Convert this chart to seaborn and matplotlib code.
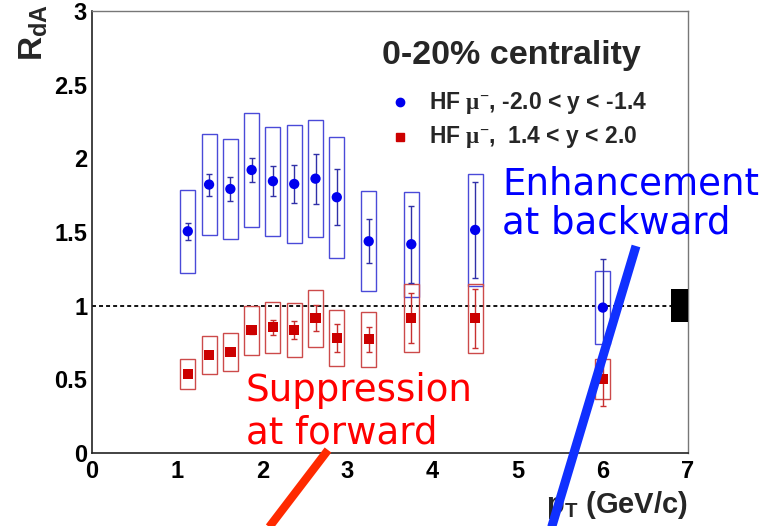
import matplotlib
matplotlib.use("Agg")
import matplotlib.pyplot as plt
from matplotlib.lines import Line2D
from matplotlib.ticker import MultipleLocator, FuncFormatter
import numpy as np
import pandas as pd
import seaborn as sns

# pT bin centres (GeV/c)
pt = [1.125, 1.375, 1.625, 1.875, 2.125, 2.375, 2.625, 2.875, 3.25, 3.75, 4.5, 6.0]

# backward rapidity, -2.0 < y < -1.4
rda_bwd = [1.505, 1.822, 1.792, 1.921, 1.845, 1.826, 1.862, 1.736, 1.437, 1.417, 1.514, 0.987]
stat_bwd = [0.058, 0.075, 0.080, 0.080, 0.100, 0.128, 0.170, 0.190, 0.150, 0.260, 0.328, 0.330]
sys_bwd = [0.280, 0.340, 0.340, 0.385, 0.370, 0.400, 0.397, 0.410, 0.340, 0.357, 0.380, 0.245]

# forward rapidity, 1.4 < y < 2.0
rda_fwd = [0.536, 0.665, 0.686, 0.833, 0.855, 0.835, 0.914, 0.781, 0.772, 0.915, 0.915, 0.500]
stat_fwd = [0.020, 0.020, 0.020, 0.025, 0.051, 0.061, 0.088, 0.093, 0.085, 0.170, 0.200, 0.180]
sys_fwd = [0.102, 0.127, 0.131, 0.168, 0.173, 0.186, 0.195, 0.190, 0.185, 0.230, 0.235, 0.136]

series_labels = [r"HF $\mathrm{\mu^{-}}$, -2.0 < y < -1.4",
                 r"HF $\mathrm{\mu^{-}}$,  1.4 < y < 2.0"]
title_text = "0-20% centrality"

ref_level = 1.0      # R_dA = 1 reference
norm_unc = 0.11      # global normalisation uncertainty
box_width = 0.176    # width of systematic-uncertainty boxes

col_bwd, col_fwd = "#0000ee", "#cc0000"
box_bwd, box_fwd = "#4a4ad8", "#cc4a4a"

sns.set_theme(style="white")
plt.rcParams["font.family"] = ["Liberation Sans", "DejaVu Sans"]
plt.rcParams["font.weight"] = "bold"
plt.rcParams["axes.labelweight"] = "bold"
plt.rcParams["mathtext.fontset"] = "custom"
plt.rcParams["mathtext.rm"] = "Liberation Serif"
plt.rcParams["mathtext.bf"] = "Liberation Sans:bold"
plt.rcParams["mathtext.it"] = "Liberation Sans:italic"

fig = plt.figure(figsize=(7.81, 5.26), dpi=100)
fig.patch.set_facecolor("white")
ax = fig.add_axes([92 / 781, 73 / 526, 596 / 781, 442 / 526])

rb, sb, eb = np.array(rda_bwd), np.array(sys_bwd), np.array(stat_bwd)
rf, sf, ef = np.array(rda_fwd), np.array(sys_fwd), np.array(stat_fwd)

# systematic boxes
ax.bar(pt, 2 * sb, bottom=rb - sb, width=box_width, fill=False,
       edgecolor=box_bwd, linewidth=1.0, zorder=2)
ax.bar(pt, 2 * sf, bottom=rf - sf, width=box_width, fill=False,
       edgecolor=box_fwd, linewidth=1.0, zorder=2)

# statistical error bars
ax.errorbar(pt, rb, yerr=eb, fmt="none", ecolor="#3030a8", elinewidth=1.0,
            capsize=2.5, capthick=1.0, zorder=3)
ax.errorbar(pt, rf, yerr=ef, fmt="none", ecolor="#c83030", elinewidth=1.0,
            capsize=2.5, capthick=1.0, zorder=3)

# data points
df = pd.DataFrame({
    "pt": pt + pt,
    "rda": rda_bwd + rda_fwd,
    "series": [series_labels[0]] * len(pt) + [series_labels[1]] * len(pt),
})
sns.scatterplot(data=df, x="pt", y="rda", hue="series", style="series",
                markers={series_labels[0]: "o", series_labels[1]: "s"},
                palette={series_labels[0]: col_bwd, series_labels[1]: col_fwd},
                s=55, linewidth=0, edgecolor="none", legend=False, ax=ax, zorder=4)

# unity line and normalisation box
ax.plot([0, 7 - 0.2], [ref_level, ref_level], color="black", lw=1.3,
        ls=(0, (2.2, 1.7)), zorder=1)
ax.bar(6.9, 2 * norm_unc, bottom=ref_level - norm_unc, width=0.2,
       color="black", linewidth=0, zorder=3)

ax.set_xlim(0, 7)
ax.set_ylim(0, 3)
ax.xaxis.set_major_locator(MultipleLocator(1))
ax.xaxis.set_minor_locator(MultipleLocator(0.2))
ax.yaxis.set_major_locator(MultipleLocator(0.5))
ax.yaxis.set_minor_locator(MultipleLocator(0.1))
ax.yaxis.set_major_formatter(FuncFormatter(lambda v, p: f"{v:g}"))
ax.xaxis.set_major_formatter(FuncFormatter(lambda v, p: f"{v:g}"))

ax.tick_params(which="both", direction="in", top=False, right=False,
               color="#333333", width=1.0, labelcolor="black")
ax.tick_params(axis="y", which="major", length=13, pad=3.5, labelsize=17)
ax.tick_params(axis="y", which="minor", length=6.5)
ax.tick_params(axis="x", which="major", length=9, pad=5, labelsize=17)
ax.tick_params(axis="x", which="minor", length=4.5)

for name, sp in ax.spines.items():
    sp.set_visible(True)
    sp.set_color("#777777" if name in ("top", "right") else "#222222")
    sp.set_linewidth(1.0 if name in ("top", "right") else 1.2)

ax.set_ylabel(r"$\mathbf{R_{dA}}$", fontsize=24, fontweight="bold")
ylab = ax.yaxis.label
ylab.set_rotation_mode("default")
ylab.set_ha("center")
ylab.set_va("top")
ax.yaxis.set_label_coords(-0.097, 1.016)

ax.set_xlabel(r"$\mathbf{p_{T}}$ (GeV/c)", fontsize=21, fontweight="bold")
xlab = ax.xaxis.label
xlab.set_ha("right")
xlab.set_va("top")
ax.xaxis.set_label_coords(1.0, -0.081)

# legend block
ax.text(0.487, 0.879, title_text, transform=ax.transAxes, fontsize=24.5,
        fontweight="bold", ha="left", va="baseline")
ax.plot([0.517], [0.794], marker="o", ms=6, color=col_bwd, ls="none",
        transform=ax.transAxes, clip_on=False)
ax.plot([0.517], [0.716], marker="s", ms=6, color=col_fwd, ls="none",
        transform=ax.transAxes, clip_on=False)
ax.text(0.5646, 0.7776, series_labels[0], transform=ax.transAxes,
        fontsize=16.5, fontweight="bold", ha="left", va="baseline")
ax.text(0.5646, 0.7007, series_labels[1], transform=ax.transAxes,
        fontsize=16.5, fontweight="bold", ha="left", va="baseline")

# call-outs
note_kw = dict(transform=ax.transAxes, fontsize=26.7, fontweight="normal",
               family="DejaVu Sans", ha="left", va="baseline", zorder=6,
               clip_on=False)
ax.text(0.688, 0.5853, "Enhancement", color="#0000ff", **note_kw)
ax.text(0.688, 0.4970, "at backward", color="#0000ff", **note_kw)
ax.text(0.2577, 0.1183, "Suppression", color="#ff0000", **note_kw)
ax.text(0.2577, 0.0219, "at forward", color="#ff0000", **note_kw)

W, H = 781, 526
fig.add_artist(Line2D([547.8 / W, 636 / W], [1 - 540 / H, 1 - 246 / H],
                      transform=fig.transFigure, color="#1030ff", lw=6.5,
                      solid_capstyle="butt", zorder=10))
fig.add_artist(Line2D([259.3 / W, 328 / W], [1 - 540 / H, 1 - 450 / H],
                      transform=fig.transFigure, color="#ff2a00", lw=6.0,
                      solid_capstyle="butt", zorder=10))

fig.savefig("out.png", dpi=100)
